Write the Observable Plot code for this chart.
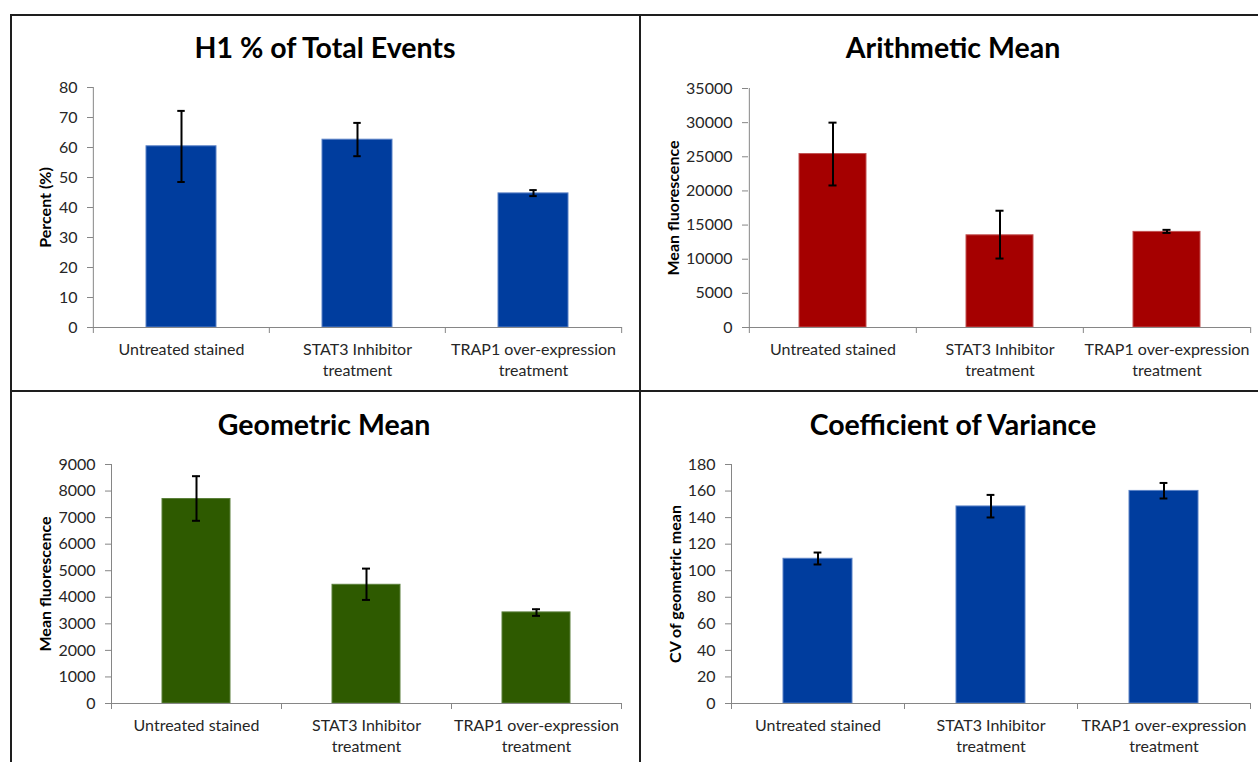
<!DOCTYPE html>
<html><head><meta charset="utf-8">
<script src="https://cdn.jsdelivr.net/npm/d3@7"></script>
<script src="https://cdn.jsdelivr.net/npm/@observablehq/plot@0.6"></script>
<style>
body{margin:0;background:#fff;}
#wrap{position:relative;width:1258px;height:762px;overflow:hidden;background:#fff;font-family:Lato,sans-serif;}
.panel{position:absolute;}
.title{position:absolute;font-family:Lato,sans-serif;font-weight:700;font-size:28.5px;line-height:28px;text-align:center;white-space:nowrap;color:#000;width:500px;}
.line{position:absolute;background:#1e1e1e;}
</style></head><body><div id="wrap"></div>
<script>
// ---- data ----
const categories = ["Untreated stained", "STAT3 Inhibitor treatment", "TRAP1 over-expression treatment"];
const categoryLabels = ["Untreated stained", "STAT3 Inhibitor\ntreatment", "TRAP1 over-expression\ntreatment"];

const h1Percent = [60.4, 62.6, 44.7];
const h1Low = [48.5, 57.1, 43.8];
const h1High = [72.2, 68.2, 45.8];
const h1Ticks = [0, 10, 20, 30, 40, 50, 60, 70, 80];

const arithMean = [25400, 13500, 14000];
const arithLow = [20800, 10100, 13850];
const arithHigh = [30000, 17100, 14300];
const arithTicks = [0, 5000, 10000, 15000, 20000, 25000, 30000, 35000];

const geoMean = [7700, 4470, 3430];
const geoLow = [6880, 3900, 3300];
const geoHigh = [8560, 5080, 3550];
const geoTicks = [0, 1000, 2000, 3000, 4000, 5000, 6000, 7000, 8000, 9000];

const cvValues = [109, 148.4, 160.1];
const cvLow = [104.7, 140.1, 154.4];
const cvHigh = [113.7, 157.1, 166.1];
const cvTicks = [0, 20, 40, 60, 80, 100, 120, 140, 160, 180];

const titles = ["H1 % of Total Events", "Arithmetic Mean", "Geometric Mean", "Coefficient of Variance"];
const yLabels = ["Percent (%)", "Mean fluorescence", "Mean fluorescence", "CV of geometric mean"];

// ---- layout ----
const panels = [
  {title: titles[0], yLabel: yLabels[0], values: h1Percent, low: h1Low, high: h1High, ticks: h1Ticks,
   left: 0, top: 0, width: 640, height: 392, mL: 93, mR: 18, mT: 87, mB: 65, fill: "#003d9e", edge: "#5b82c6",
   titleX: 325, titleTop: 33, labelDx: -48},
  {title: titles[1], yLabel: yLabels[1], values: arithMean, low: arithLow, high: arithHigh, ticks: arithTicks,
   left: 640, top: 0, width: 618, height: 392, mL: 108, mR: 8, mT: 88, mB: 65, fill: "#a50000", edge: "#c25050",
   titleX: 313, titleTop: 33, labelDx: -75},
  {title: titles[2], yLabel: yLabels[2], values: geoMean, low: geoLow, high: geoHigh, ticks: geoTicks,
   left: 0, top: 392, width: 640, height: 370, mL: 111, mR: 19, mT: 72, mB: 59, fill: "#2e5a00", edge: "#5a7f3a",
   titleX: 324, titleTop: 18, labelDx: -66},
  {title: titles[3], yLabel: yLabels[3], values: cvValues, low: cvLow, high: cvHigh, ticks: cvTicks,
   left: 640, top: 392, width: 618, height: 370, mL: 91, mR: 8, mT: 72, mB: 59, fill: "#003d9e", edge: "#5b82c6",
   titleX: 313, titleTop: 18, labelDx: -56}
];

const wrap = document.getElementById("wrap");
const axisGray = "#868686";

panels.forEach(p => {
  const data = categories.map((c, i) => ({cat: c, value: p.values[i], low: p.low[i], high: p.high[i]}));
  const step = (p.width - p.mL - p.mR) / categories.length;
  const bw = step * 0.4;
  const capInset = (bw - 8) / 2;
  const yMax = p.ticks[p.ticks.length - 1];
  const chart = Plot.plot({
    width: p.width, height: p.height,
    marginLeft: p.mL, marginRight: p.mR, marginTop: p.mT, marginBottom: p.mB,
    style: {fontFamily: "Lato, sans-serif", background: "transparent", overflow: "visible"},
    x: {type: "band", domain: categories, paddingInner: 0.6, paddingOuter: 0.3},
    y: {domain: [0, yMax]},
    marks: [
      Plot.barY(data, {x: "cat", y: "value", fill: p.fill, stroke: p.edge, strokeWidth: 1}),
      Plot.ruleY([0], {stroke: axisGray}),
      Plot.ruleX([categories[0]], {y1: 0, y2: yMax, dx: -step / 2, stroke: axisGray}),
      Plot.axisX({tickSize: 6, dx: -step / 2, fill: "none", stroke: axisGray, label: null}),
      Plot.axisX([categories[categories.length - 1]], {tickSize: 6, dx: step / 2, fill: "none", stroke: axisGray, label: null}),
      Plot.axisX({tickSize: 0, tickPadding: 13, fontSize: 16, lineHeight: 1.3, fill: "#262626", label: null,
        tickFormat: d => categoryLabels[categories.indexOf(d)]}),
      Plot.axisY({ticks: p.ticks, tickSize: 6, tickPadding: 10, stroke: axisGray, fill: "#262626", fontSize: 16,
        label: null, tickFormat: d => String(d)}),
      Plot.text([p.yLabel], {frameAnchor: "left", rotate: -90, textAnchor: "middle", dx: p.labelDx, fontSize: 16, fontWeight: "bold", fill: "#000"}),
      Plot.ruleX(data, {x: "cat", y1: "low", y2: "high", stroke: "#000", strokeWidth: 2}),
      Plot.tickY(data, {x: "cat", y: "low", stroke: "#000", strokeWidth: 2, insetLeft: capInset, insetRight: capInset}),
      Plot.tickY(data, {x: "cat", y: "high", stroke: "#000", strokeWidth: 2, insetLeft: capInset, insetRight: capInset})
    ]
  });
  const div = document.createElement("div");
  div.className = "panel";
  div.style.left = p.left + "px";
  div.style.top = p.top + "px";
  div.appendChild(chart);
  wrap.appendChild(div);

  const t = document.createElement("div");
  t.className = "title";
  t.textContent = p.title;
  t.style.left = (p.left + p.titleX - 250) + "px";
  t.style.top = (p.top + p.titleTop) + "px";
  wrap.appendChild(t);
});

// panel borders
[[10, 14, 2, 748], [10, 14, 1248, 2], [639, 14, 2, 748], [10, 390, 1248, 2]].forEach(([l, t, w, h]) => {
  const d = document.createElement("div");
  d.className = "line";
  d.style.left = l + "px"; d.style.top = t + "px"; d.style.width = w + "px"; d.style.height = h + "px";
  wrap.appendChild(d);
});
</script></body></html>
